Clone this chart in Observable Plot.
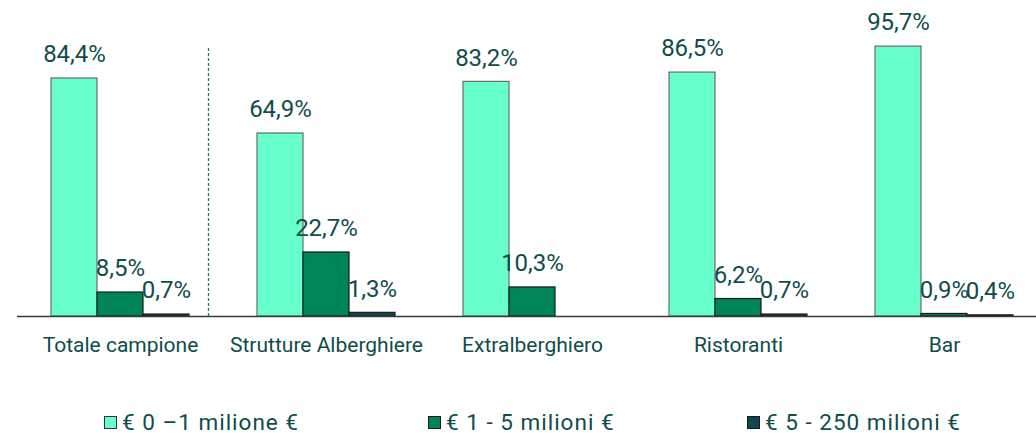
<!DOCTYPE html>
<html><head><meta charset="utf-8">
<script src="https://cdn.jsdelivr.net/npm/d3@7"></script>
<script src="https://cdn.jsdelivr.net/npm/@observablehq/plot@0.6"></script>
<style>
html,body{margin:0;padding:0;background:#fff;}
#chart svg{display:block;}
#legend{position:relative;width:1036px;height:43px;font-family:Roboto,sans-serif;font-size:22.5px;color:#0F4C4C;letter-spacing:1px;}
#legend .item{position:absolute;top:22px;height:20px;display:flex;align-items:center;white-space:nowrap;line-height:20px;}
#legend .sw{width:13px;height:13px;margin-right:5px;box-sizing:border-box;}
</style></head>
<body><div id="chart"></div><div id="legend"></div>
<script>
const categories = ["Totale campione","Strutture Alberghiere","Extralberghiero","Ristoranti","Bar"];
const series = ["€ 0 –1 milione €","€ 1 - 5 milioni €","€ 5 - 250 milioni €"];
const small  = [84.4, 64.9, 83.2, 86.5, 95.7];
const medium = [8.5, 22.7, 10.3, 6.2, 0.9];
const large  = [0.7, 1.3, null, 0.7, 0.4];
const colors = ["#66FFCC","#00855A","#0B4A50"];
const strokes = ["#6b6b6b","#1a1a1a","#1a1a1a"];
const textColor = "#0F4C4C";

const data = categories.flatMap((c,i)=>[small,medium,large].map((arr,j)=>({category:c, series:series[j], value:arr[i]}))).filter(d=>d.value!=null);
const fmt = v => v.toFixed(1).replace(".",",")+"%";

const chart = Plot.plot({
  width:1036, height:390, marginTop:0, marginBottom:0, marginLeft:0, marginRight:0,
  style:{fontFamily:"Roboto, sans-serif", overflow:"visible", background:"transparent"},
  fx:{domain:categories, range:[17,1047], padding:0, axis:null, label:null},
  x:{domain:series, paddingInner:0, paddingOuter:0.739, axis:null},
  y:{domain:[0,100], range:[316,34], axis:null},
  color:{domain:series, range:colors},
  marks:[
    Plot.ruleX([{category:categories[0], series:series[2]}], {fx:"category", x:"series", dx:42, y1:0, y2:95, stroke:"#2f6f78", strokeWidth:1.3, strokeDasharray:"3,2"}),
    ...series.map((s,j)=>Plot.barY(data.filter(d=>d.series===s), {fx:"category", x:"series", y:"value", fill:"series", stroke:strokes[j], strokeWidth:1.2})),
    Plot.ruleY([0], {stroke:"#3a3a3a", strokeWidth:1.6}),
    Plot.text(data, {fx:"category", x:"series", y:"value", text:d=>fmt(d.value), dy:-24, fill:textColor, fontSize:24}),
    Plot.text(categories, {fx:d=>d, y:()=>0, text:d=>d, dy:29, fill:textColor, fontSize:21})
  ]
});
document.getElementById("chart").appendChild(chart);

const lefts = [104, 428, 747];
const legend = document.getElementById("legend");
series.forEach((s,j)=>{
  const it = document.createElement("div");
  it.className="item"; it.style.left = lefts[j]+"px";
  const sw = document.createElement("span"); sw.className="sw";
  sw.style.background = colors[j]; sw.style.border = "1.5px solid "+(j===0?"#333":"#1a1a1a");
  const t = document.createElement("span"); t.textContent = s;
  it.appendChild(sw); it.appendChild(t); legend.appendChild(it);
});
</script>
</body></html>
